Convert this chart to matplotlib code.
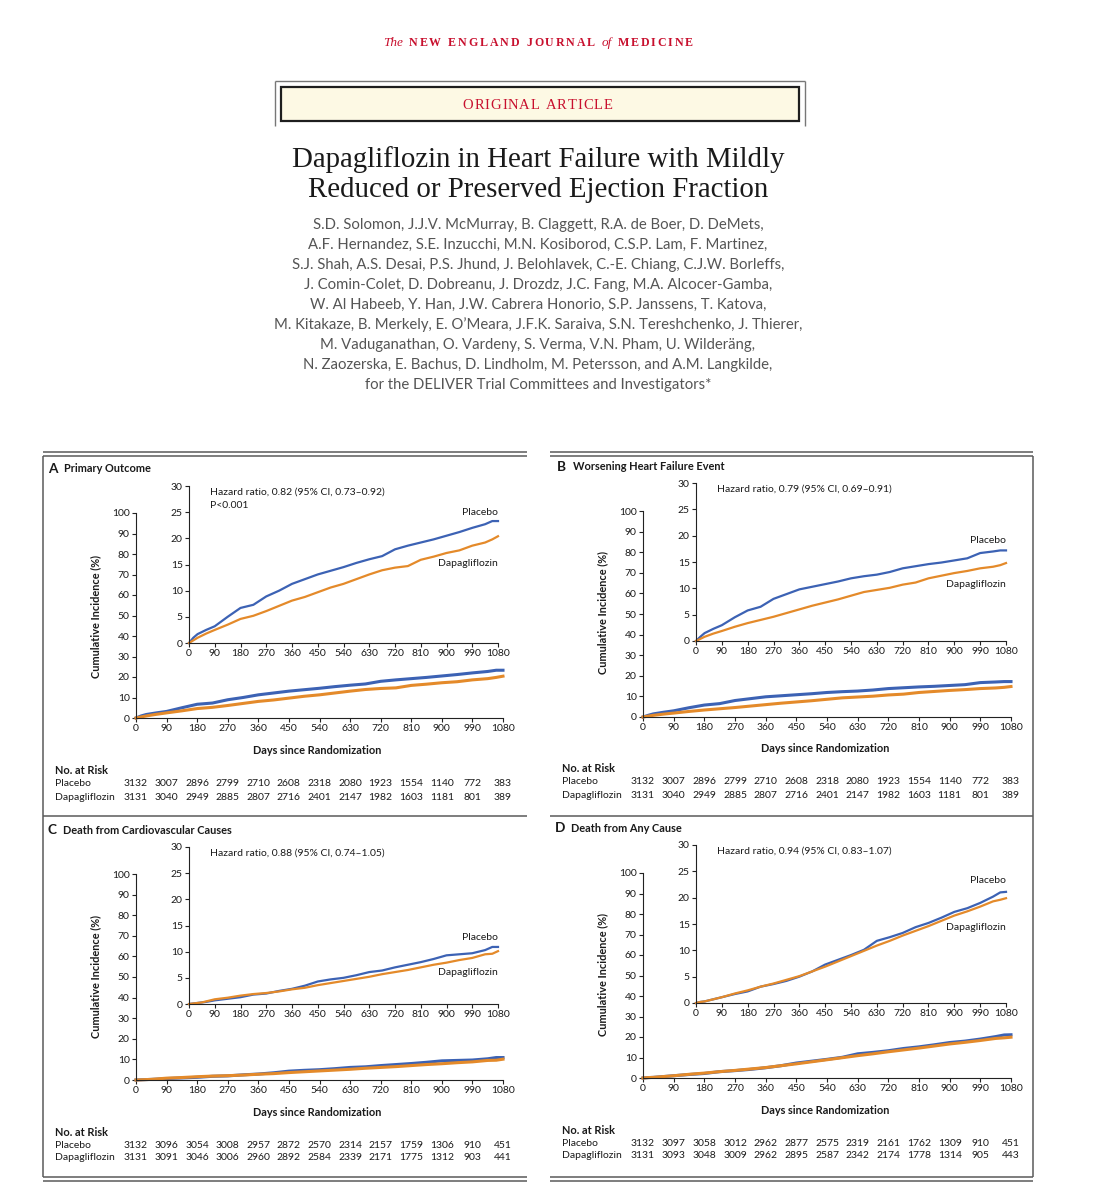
import matplotlib
matplotlib.use("Agg")
import matplotlib.pyplot as plt
from matplotlib.lines import Line2D
from matplotlib.patches import Rectangle
import matplotlib.transforms as mtransforms

# ---------------- data ----------------
days = [0, 15, 30, 45, 60, 90, 135, 180, 225, 270, 315, 360, 405, 450, 495,
        540, 585, 630, 675, 720, 765, 810, 855, 900, 945, 990, 1035, 1060, 1080]

primary_placebo = [0, 1.0, 1.7, 2.1, 2.5, 3.2, 5.0, 6.7, 7.3, 8.9, 10.0, 11.3, 12.2, 13.1, 13.8,
                   14.5, 15.3, 16.0, 16.6, 17.9, 18.6, 19.2, 19.8, 20.5, 21.2, 22.0, 22.7, 23.3, 23.3]
primary_dapa = [0, 0.5, 1.0, 1.4, 1.8, 2.5, 3.5, 4.6, 5.2, 6.1, 7.1, 8.1, 8.8, 9.7, 10.6,
                11.3, 12.2, 13.1, 13.9, 14.4, 14.7, 15.9, 16.5, 17.2, 17.7, 18.6, 19.2, 19.8, 20.4]

whf_placebo = [0, 0.8, 1.5, 1.9, 2.3, 3.0, 4.5, 5.8, 6.5, 8.0, 8.9, 9.8, 10.3, 10.8, 11.3,
               11.9, 12.3, 12.6, 13.1, 13.8, 14.2, 14.6, 14.9, 15.3, 15.7, 16.7, 17.0, 17.2, 17.2]
whf_dapa = [0, 0.4, 0.8, 1.1, 1.4, 1.9, 2.7, 3.4, 4.0, 4.6, 5.3, 6.0, 6.7, 7.3, 7.9,
            8.6, 9.3, 9.7, 10.1, 10.7, 11.1, 11.9, 12.4, 12.9, 13.3, 13.8, 14.1, 14.4, 14.8]

cv_placebo = [0, 0.1, 0.2, 0.3, 0.4, 0.7, 1.0, 1.3, 1.8, 2.0, 2.5, 2.9, 3.5, 4.3, 4.7,
              5.0, 5.5, 6.1, 6.4, 7.0, 7.5, 8.0, 8.6, 9.3, 9.5, 9.7, 10.3, 10.9, 10.9]
cv_dapa = [0, 0.1, 0.2, 0.3, 0.5, 0.9, 1.2, 1.6, 1.9, 2.1, 2.4, 2.8, 3.1, 3.6, 4.0,
           4.4, 4.8, 5.2, 5.7, 6.1, 6.5, 7.0, 7.5, 7.9, 8.4, 8.8, 9.5, 9.6, 10.1]

death_placebo = [0, 0.2, 0.3, 0.5, 0.7, 1.1, 1.7, 2.2, 3.1, 3.6, 4.2, 5.0, 6.0, 7.3, 8.2,
                 9.1, 10.1, 11.8, 12.5, 13.3, 14.4, 15.2, 16.2, 17.3, 18.0, 19.0, 20.2, 21.0, 21.1]
death_dapa = [0, 0.2, 0.3, 0.5, 0.7, 1.1, 1.8, 2.4, 3.1, 3.7, 4.4, 5.1, 6.0, 6.9, 7.9,
              8.9, 9.9, 10.9, 11.8, 12.8, 13.7, 14.6, 15.6, 16.6, 17.4, 18.3, 19.3, 19.6, 19.9]

risk_days = [0, 90, 180, 270, 360, 450, 540, 630, 720, 810, 900, 990, 1080]
risk_primary_placebo = [3132, 3007, 2896, 2799, 2710, 2608, 2318, 2080, 1923, 1554, 1140, 772, 383]
risk_primary_dapa = [3131, 3040, 2949, 2885, 2807, 2716, 2401, 2147, 1982, 1603, 1181, 801, 389]
risk_whf_placebo = [3132, 3007, 2896, 2799, 2710, 2608, 2318, 2080, 1923, 1554, 1140, 772, 383]
risk_whf_dapa = [3131, 3040, 2949, 2885, 2807, 2716, 2401, 2147, 1982, 1603, 1181, 801, 389]
risk_cv_placebo = [3132, 3096, 3054, 3008, 2957, 2872, 2570, 2314, 2157, 1759, 1306, 910, 451]
risk_cv_dapa = [3131, 3091, 3046, 3006, 2960, 2892, 2584, 2339, 2171, 1775, 1312, 903, 441]
risk_death_placebo = [3132, 3097, 3058, 3012, 2962, 2877, 2575, 2319, 2161, 1762, 1309, 910, 451]
risk_death_dapa = [3131, 3093, 3048, 3009, 2962, 2895, 2587, 2342, 2174, 1778, 1314, 905, 443]

main_yticks = list(range(0, 101, 10))
inset_yticks = list(range(0, 31, 5))
xticks = list(range(0, 1081, 90))

journal_parts = [("The", "italic"), ("NEW ENGLAND JOURNAL", "caps"), ("of", "italic"), ("MEDICINE", "caps")]
banner = "ORIGINAL ARTICLE"
title_lines = ["Dapagliflozin in Heart Failure with Mildly",
               "Reduced or Preserved Ejection Fraction"]
author_lines = [
    "S.D. Solomon, J.J.V. McMurray, B. Claggett, R.A. de Boer, D. DeMets,",
    "A.F. Hernandez, S.E. Inzucchi, M.N. Kosiborod, C.S.P. Lam, F. Martinez,",
    "S.J. Shah, A.S. Desai, P.S. Jhund, J. Belohlavek, C.-E. Chiang, C.J.W. Borleffs,",
    "J. Comin-Colet, D. Dobreanu, J. Drozdz, J.C. Fang, M.A. Alcocer-Gamba,",
    "W. Al Habeeb, Y. Han, J.W. Cabrera Honorio, S.P. Janssens, T. Katova,",
    "M. Kitakaze, B. Merkely, E. O\u2019Meara, J.F.K. Saraiva, S.N. Tereshchenko, J. Thierer,",
    "M. Vaduganathan, O. Vardeny, S. Verma, V.N. Pham, U. Wilder\u00e4ng,",
    "N. Zaozerska, E. Bachus, D. Lindholm, M. Petersson, and A.M. Langkilde,",
    "for the DELIVER Trial Committees and Investigators*",
]

# ---------------- figure ----------------
W, H = 1112, 1200
fig = plt.figure(figsize=(W / 100, H / 100), dpi=100)
fig.patch.set_facecolor("white")
renderer = fig.canvas.get_renderer()

SANS = ["Lato", "DejaVu Sans"]
SERIF = ["Liberation Serif", "DejaVu Serif"]
RED = "#c8102e"
BLUE = "#3c62b4"
ORANGE = "#e48a2a"
FRAME = "#5a5a5a"
TXT = "#1a1a1a"


def fx(x):
    return x / W


def fy(y):
    return 1 - y / H


def width_of(t):
    return t.get_window_extent(renderer).width


def hline(x0, x1, y, lw=1.0, color=FRAME):
    fig.add_artist(Line2D([fx(x0), fx(x1)], [fy(y), fy(y)], lw=lw, color=color,
                          transform=fig.transFigure, solid_capstyle="butt"))


def vline(x, y0, y1, lw=1.0, color=FRAME):
    fig.add_artist(Line2D([fx(x), fx(x)], [fy(y0), fy(y1)], lw=lw, color=color,
                          transform=fig.transFigure, solid_capstyle="butt"))


# ---------------- header ----------------
texts = []
x = 0.0
ybase = 46
for word, style in journal_parts:
    if style == "italic":
        t = fig.text(fx(x), fy(ybase), word, family=SERIF, style="italic", fontsize=9.5,
                     color=RED, va="baseline", ha="left")
        texts.append(t)
        x += width_of(t) + 6
    else:
        for ch in word:
            if ch == " ":
                x += 5
                continue
            t = fig.text(fx(x), fy(ybase), ch, family=SERIF, weight="bold", fontsize=8.6,
                         color=RED, va="baseline", ha="left")
            texts.append(t)
            x += width_of(t) + 1.9
        x += 4
total = x - 6
offset = 538 - total / 2
for t in texts:
    t.set_x(t.get_position()[0] + offset / W)

# banner box
hline(275, 805, 81, lw=1.0, color="#777777")
vline(275, 81, 126, lw=1.0, color="#777777")
vline(805, 81, 126, lw=1.0, color="#777777")
fig.add_artist(Rectangle((fx(281), fy(121)), fx(799) - fx(281), fy(87) - fy(121),
                         transform=fig.transFigure, facecolor="#fdf9e4",
                         edgecolor="#1e1e1e", lw=1.6))
bx = 0.0
btexts = []
for ch in banner:
    if ch == " ":
        bx += 5
        continue
    t = fig.text(fx(bx), fy(109), ch, family=SERIF, fontsize=10.5, color=RED,
                 va="baseline", ha="left")
    btexts.append(t)
    bx += width_of(t) + 0.9
for t in btexts:
    t.set_x(t.get_position()[0] + (538 - bx / 2) / W)

# title
t1 = fig.text(fx(538), fy(160), title_lines[0], family=SERIF, fontsize=20,
              color=TXT, ha="center", va="center")
tsize = 20 * 494 / width_of(t1)
t1.set_fontsize(tsize)
fig.text(fx(538), fy(190), title_lines[1], family=SERIF, fontsize=tsize,
         color=TXT, ha="center", va="center")

# authors
a0 = fig.text(fx(538), fy(225), author_lines[0], family=SANS, fontsize=10,
              color="#555555", ha="center", va="center")
asize = 10 * 449 / width_of(a0)
a0.set_fontsize(asize)
for i, line in enumerate(author_lines[1:], start=1):
    fig.text(fx(538), fy(225 + 20 * i), line, family=SANS, fontsize=asize,
             color="#555555", ha="center", va="center")

# ---------------- panel frames ----------------
for (x0, x1) in [(43, 527), (550, 1033)]:
    hline(x0, x1, 452, lw=1.1)
    hline(x0, x1, 455.5, lw=1.1)
    hline(x0, x1, 816, lw=1.1)
    hline(x0, x1, 1177, lw=1.1)
    hline(x0, x1, 1180.5, lw=1.1)
vline(43, 455.5, 1177, lw=1.1)
vline(1033, 455.5, 1177, lw=1.1)

FS = 7.5
FSB = 7.9


def style_axes(ax):
    for s in ["top", "right"]:
        ax.spines[s].set_visible(False)
    for s in ["left", "bottom"]:
        ax.spines[s].set_linewidth(0.8)
        ax.spines[s].set_color("#222222")
    ax.tick_params(direction="out", length=3, width=0.8, labelsize=FS, pad=1.5,
                   colors="#222222", labelcolor=TXT)
    for lab in ax.get_xticklabels() + ax.get_yticklabels():
        lab.set_family(SANS)


def panel(letter, title, geo, hr, plac, dapa, risk_p, risk_d):
    L, R = geo["main_x"]
    y0, y100 = geo["main_y"]
    ax = fig.add_axes([fx(L), fy(y0), (R - L) / W, (y0 - y100) / H])
    ax.plot(days, plac, color=BLUE, lw=2.2, clip_on=False, solid_joinstyle="round")
    ax.plot(days, dapa, color=ORANGE, lw=2.2, clip_on=False, solid_joinstyle="round")
    ax.set_xlim(0, 1080)
    ax.set_ylim(0, 100)
    ax.set_xticks(xticks)
    ax.set_yticks(main_yticks)
    ax.set_facecolor("none")
    style_axes(ax)

    iL, iR = geo["in_x"]
    i0, i30 = geo["in_y"]
    ai = fig.add_axes([fx(iL), fy(i0), (iR - iL) / W, (i0 - i30) / H])
    ai.plot(days, plac, color=BLUE, lw=1.6, clip_on=False)
    ai.plot(days, dapa, color=ORANGE, lw=1.6, clip_on=False)
    ai.set_xlim(0, 1080)
    ai.set_ylim(0, 30)
    ai.set_xticks(xticks)
    ai.set_yticks(inset_yticks)
    ai.set_facecolor("none")
    style_axes(ai)

    for k, line in enumerate(hr):
        ai.text(0.068, 0.962 - 0.085 * k, line, transform=ai.transAxes, family=SANS,
                fontsize=FS, color=TXT, ha="left", va="center")
    ai.text(1080, geo["plac_lbl"], "Placebo", family=SANS, fontsize=FS, color=TXT,
            ha="right", va="center")
    ai.text(1080, geo["dapa_lbl"], "Dapagliflozin", family=SANS, fontsize=FS, color=TXT,
            ha="right", va="center")

    lx, ly = geo["letter"]
    fig.text(fx(lx), fy(ly), letter, family=SANS, weight="bold", fontsize=9.8,
             color=TXT, ha="left", va="center")
    fig.text(fx(lx + 16), fy(ly), title, family=SANS, weight="bold", fontsize=FSB,
             color=TXT, ha="left", va="center")

    yx, yy = geo["ylab"]
    fig.text(fx(yx), fy(yy), "Cumulative Incidence (%)", family=SANS, weight="bold",
             fontsize=FSB, color=TXT, rotation=90, ha="center", va="center")
    fig.text(fx((L + R) / 2 - 2), fy(geo["xlab"]), "Days since Randomization", family=SANS,
             weight="bold", fontsize=FSB, color=TXT, ha="center", va="center")

    rx, (r0, r1, r2) = geo["risk_x"], geo["risk_y"]
    fig.text(fx(rx), fy(r0), "No. at Risk", family=SANS, weight="bold", fontsize=FSB,
             color=TXT, ha="left", va="center")
    fig.text(fx(rx), fy(r1), "Placebo", family=SANS, fontsize=FS, color=TXT,
             ha="left", va="center")
    fig.text(fx(rx), fy(r2), "Dapagliflozin", family=SANS, fontsize=FS, color=TXT,
             ha="left", va="center")
    trans = mtransforms.blended_transform_factory(ax.transData, fig.transFigure)
    for d, vp, vd in zip(risk_days, risk_p, risk_d):
        fig.text(d, fy(r1), str(vp), transform=trans, family=SANS, fontsize=FS,
                 color=TXT, ha="center", va="center")
        fig.text(d, fy(r2), str(vd), transform=trans, family=SANS, fontsize=FS,
                 color=TXT, ha="center", va="center")


geoA = dict(main_x=(136, 503), main_y=(718, 513), in_x=(189, 498), in_y=(643, 486),
            plac_lbl=25.0, dapa_lbl=15.1, letter=(48, 469), ylab=(96, 617), xlab=750,
            risk_x=55, risk_y=(771, 784, 797))
geoB = dict(main_x=(643, 1011), main_y=(717, 511), in_x=(696, 1006), in_y=(641, 483),
            plac_lbl=19.0, dapa_lbl=10.8, letter=(557, 467), ylab=(603, 613), xlab=748,
            risk_x=562, risk_y=(769, 782, 795))
geoC = dict(main_x=(136, 503), main_y=(1080, 874), in_x=(189, 498), in_y=(1004, 847),
            plac_lbl=12.8, dapa_lbl=6.1, letter=(47, 830), ylab=(96, 977), xlab=1112,
            risk_x=55, risk_y=(1132, 1145, 1158))
geoD = dict(main_x=(643, 1011), main_y=(1078, 873), in_x=(696, 1006), in_y=(1003, 845),
            plac_lbl=23.2, dapa_lbl=14.4, letter=(555, 828), ylab=(603, 975), xlab=1110,
            risk_x=562, risk_y=(1130, 1143, 1156))

panel("A", "Primary Outcome", geoA,
      ["Hazard ratio, 0.82 (95% CI, 0.73\u20130.92)", "P<0.001"],
      primary_placebo, primary_dapa, risk_primary_placebo, risk_primary_dapa)
panel("B", "Worsening Heart Failure Event", geoB,
      ["Hazard ratio, 0.79 (95% CI, 0.69\u20130.91)"],
      whf_placebo, whf_dapa, risk_whf_placebo, risk_whf_dapa)
panel("C", "Death from Cardiovascular Causes", geoC,
      ["Hazard ratio, 0.88 (95% CI, 0.74\u20131.05)"],
      cv_placebo, cv_dapa, risk_cv_placebo, risk_cv_dapa)
panel("D", "Death from Any Cause", geoD,
      ["Hazard ratio, 0.94 (95% CI, 0.83\u20131.07)"],
      death_placebo, death_dapa, risk_death_placebo, risk_death_dapa)

fig.savefig("out.png", dpi=100, facecolor="white")
